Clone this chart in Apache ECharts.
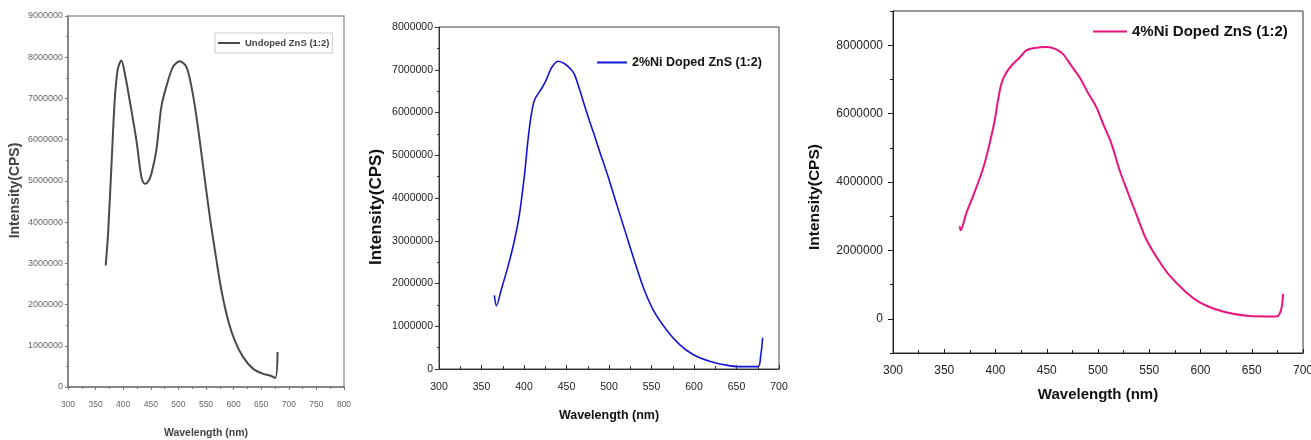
<!DOCTYPE html>
<html>
<head>
<meta charset="utf-8">
<script src="https://cdn.jsdelivr.net/npm/echarts@6.0.0/dist/echarts.min.js"></script>
<style>html,body{margin:0;padding:0;background:#fff;}#c{width:1311px;height:440px;}</style>
</head>
<body>
<div id="c"></div>
<script>
// ---- Data ----
const seriesNames = ['Undoped ZnS (1:2)', '2%Ni Doped ZnS (1:2)', '4%Ni Doped ZnS (1:2)'];

const wavelength1 = [368.3,372.6,378.6,384.6,390,396.7,403,411.8,424,433,439,445,451,460,469,478,490,502.5,514.6,523.7,532.8,544.9,557,569,578,590,602,617,635.5,653.7,665.8,675.5,679.7];
const intensity1 = [2950000,3720000,5340000,6950000,7700000,7920000,7600000,6950000,5980000,5090000,4930000,4980000,5170000,5740000,6790000,7280000,7760000,7900000,7760000,7280000,6550000,5340000,4120000,3070000,2340000,1620000,1130000,730000,440000,320000,280000,220000,850000];

const wavelength2 = [365.1,367.5,373.3,381.2,389,394.9,400.8,404.7,408.6,412.5,420.4,426.3,432.2,440,447.8,455.7,459.6,465.5,473.3,481.2,489,498.8,508.6,518.4,528.2,540,551.8,567.5,583.1,598.8,618.4,638,653.7,675.3,678.4,680.8];
const intensity2 = [1720000,1480000,1860000,2400000,3030000,3650000,4580000,5360000,5950000,6300000,6550000,6770000,7040000,7200000,7140000,7000000,6880000,6530000,6030000,5560000,5090000,4510000,3880000,3260000,2640000,1930000,1390000,920000,570000,340000,180000,90000,55000,55000,300000,730000];

const wavelength3 = [365,366,371.5,378,384.6,389.4,394.3,399.2,402.4,405.7,410.6,417,423.6,430,436.6,449.6,459.3,465.9,474,482,490,498.4,504.9,513,521,529.3,537.4,547.2,558.5,569.9,586.2,599.2,615.4,631.7,648,664.2,674,677.2,679.5,680.5];
const intensity3 = [2710000,2590000,3090000,3580000,4110000,4550000,5130000,5800000,6380000,6870000,7200000,7450000,7640000,7850000,7910000,7950000,7880000,7740000,7400000,7060000,6620000,6190000,5710000,5130000,4350000,3680000,3050000,2320000,1740000,1260000,770000,480000,270000,145000,80000,70000,70000,145000,390000,730000];

// peak annotations: [wavelength, intensity, text]
const peaks1 = [[395, 7920000, '395nm'], [500, 7900000, '500nm']];
const peaks2 = [[440, 7200000, '440nm']];
const peaks3 = [[449, 7950000, '449nm']];

const yTicks3 = [0, 2000000, 4000000, 6000000, 8000000];

// ---- Chart ----
const FONT = "'Liberation Sans', Arial, sans-serif";
const zip = (xs, ys) => xs.map((x, i) => [x, ys[i]]);
const plain = v => String(v);

const chart = echarts.init(document.getElementById('c'), null, {renderer: 'canvas'});

function peakMarks(peaks, style) {
  return {
    symbol: 'none',
    silent: true,
    label: Object.assign({show: true, position: 'inside', fontFamily: FONT, fontWeight: 'bold'}, style),
    data: peaks.map(p => ({coord: [p[0], p[1]], value: p[2], label: {formatter: p[2]}}))
  };
}

const option = {
  animation: false,
  backgroundColor: '#fff',
  grid: [
    {left: 68, right: 967, top: 16, bottom: 53, show: true, borderColor: '#9a9a9a', borderWidth: 1.5, outerBoundsMode: 'none', containLabel: false},
    {left: 439, right: 532, top: 27, bottom: 71, show: true, borderColor: '#444', borderWidth: 1, outerBoundsMode: 'none', containLabel: false},
    {left: 893, right: 8, top: 11, bottom: 87, show: true, borderColor: '#333', borderWidth: 1, outerBoundsMode: 'none', containLabel: false}
  ],
  legend: [
    {data: [seriesNames[0]], left: 215, top: 33, padding: [5, 3], borderColor: '#ccc', borderWidth: 1, icon: 'rect',
     itemWidth: 22, itemHeight: 2, textStyle: {fontFamily: FONT, fontWeight: 'bold', fontSize: 9.5, color: '#444'}},
    {data: [seriesNames[1]], left: 597, top: 56, padding: 0, icon: 'rect',
     itemWidth: 30, itemHeight: 2, textStyle: {fontFamily: FONT, fontWeight: 'bold', fontSize: 12.5, color: '#111'}},
    {data: [seriesNames[2]], left: 1093, top: 24, padding: 0, icon: 'rect',
     itemWidth: 34, itemHeight: 2, textStyle: {fontFamily: FONT, fontWeight: 'bold', fontSize: 15, color: '#111'}}
  ],
  xAxis: [
    {gridIndex: 0, type: 'value', min: 300, max: 800, interval: 50,
     name: 'Wavelength (nm)', nameLocation: 'middle', nameGap: 41,
     nameTextStyle: {fontFamily: FONT, fontWeight: 'bold', fontSize: 10.5, color: '#444'},
     axisLine: {onZero: false, lineStyle: {color: '#777', width: 1.5}},
     axisTick: {length: 3, lineStyle: {color: '#777'}},
     minorTick: {show: true, splitNumber: 2, length: 2, lineStyle: {color: '#777'}},
     axisLabel: {fontFamily: FONT, fontSize: 8.5, color: '#666', margin: 13, formatter: plain},
     splitLine: {show: false}},
    {gridIndex: 1, type: 'value', min: 300, max: 700, interval: 50,
     name: 'Wavelength (nm)', nameLocation: 'middle', nameGap: 40,
     nameTextStyle: {fontFamily: FONT, fontWeight: 'bold', fontSize: 12.5, color: '#111'},
     axisLine: {onZero: false, lineStyle: {color: '#333', width: 1}},
     axisTick: {length: 4, inside: true, lineStyle: {color: '#333'}},
     minorTick: {show: true, splitNumber: 2, length: 3, lineStyle: {color: '#333'}},
     axisLabel: {fontFamily: FONT, fontSize: 10.5, color: '#222', margin: 13, formatter: plain},
     splitLine: {show: false}},
    {gridIndex: 2, type: 'value', min: 300, max: 700, interval: 50,
     name: 'Wavelength (nm)', nameLocation: 'middle', nameGap: 34,
     nameTextStyle: {fontFamily: FONT, fontWeight: 'bold', fontSize: 15, color: '#111'},
     axisLine: {onZero: false, lineStyle: {color: '#222', width: 1}},
     axisTick: {length: 4, inside: true, lineStyle: {color: '#222'}},
     minorTick: {show: true, splitNumber: 2, length: 3, lineStyle: {color: '#222'}},
     axisLabel: {fontFamily: FONT, fontSize: 12, color: '#222', margin: 12, formatter: plain},
     splitLine: {show: false}}
  ],
  yAxis: [
    {gridIndex: 0, type: 'value', min: 0, max: 9000000, interval: 1000000,
     name: 'Intensity(CPS)', nameLocation: 'middle', nameGap: 46,
     nameTextStyle: {fontFamily: FONT, fontWeight: 'bold', fontSize: 14, color: '#444', padding: [0, 0, 0, 22]},
     axisLine: {onZero: false, lineStyle: {color: '#777', width: 1.5}},
     axisTick: {length: 3, lineStyle: {color: '#777'}},
     minorTick: {show: true, splitNumber: 2, length: 2, lineStyle: {color: '#777'}},
     axisLabel: {fontFamily: FONT, fontSize: 9, color: '#666', margin: 5, formatter: plain},
     splitLine: {show: false}},
    {gridIndex: 1, type: 'value', min: 0, max: 8000000, interval: 1000000,
     name: 'Intensity(CPS)', nameLocation: 'middle', nameGap: 54,
     nameTextStyle: {fontFamily: FONT, fontWeight: 'bold', fontSize: 17, color: '#111', padding: [0, 18, 0, 0]},
     axisLine: {onZero: false, lineStyle: {color: '#333', width: 1}},
     axisTick: {length: 4, lineStyle: {color: '#333'}},
     minorTick: {show: true, splitNumber: 2, length: 2, lineStyle: {color: '#333'}},
     axisLabel: {fontFamily: FONT, fontSize: 10.5, color: '#222', margin: 6, formatter: plain},
     splitLine: {show: false}},
    {gridIndex: 2, type: 'value', min: -1000000, max: 9000000, interval: 1000000,
     name: 'Intensity(CPS)', nameLocation: 'middle', nameGap: 70,
     nameTextStyle: {fontFamily: FONT, fontWeight: 'bold', fontSize: 15.5, color: '#111', padding: [0, 30, 0, 0]},
     axisLine: {onZero: false, lineStyle: {color: '#222', width: 1}},
     axisTick: {length: 5, customValues: yTicks3, lineStyle: {color: '#222'}},
     axisLabel: {fontFamily: FONT, fontSize: 12, color: '#222', margin: 10, customValues: yTicks3, formatter: plain},
     splitLine: {show: false}},
    {gridIndex: 2, type: 'value', position: 'left', offset: 0, min: -1000000, max: 9000000, interval: 1000000,
     axisLine: {show: false, onZero: false},
     axisTick: {length: 3, lineStyle: {color: '#222'}},
     axisLabel: {show: false},
     splitLine: {show: false}}
  ],
  series: [
    {name: seriesNames[0], type: 'line', xAxisIndex: 0, yAxisIndex: 0, data: zip(wavelength1, intensity1),
     showSymbol: false, symbol: 'none', smooth: 0.3,
     lineStyle: {color: '#4a4a4a', width: 2}, itemStyle: {color: '#4a4a4a'},
     markPoint: peakMarks(peaks1, {fontSize: 10, color: '#333', offset: [2, -19]})},
    {name: seriesNames[1], type: 'line', xAxisIndex: 1, yAxisIndex: 1, data: zip(wavelength2, intensity2),
     showSymbol: false, symbol: 'none', smooth: 0.3,
     lineStyle: {color: '#1414d6', width: 1.6}, itemStyle: {color: '#1414d6'},
     markPoint: peakMarks(peaks2, {fontSize: 12.5, color: '#111', offset: [-1, -17]})},
    {name: seriesNames[2], type: 'line', xAxisIndex: 2, yAxisIndex: 2, data: zip(wavelength3, intensity3),
     showSymbol: false, symbol: 'none', smooth: 0.3,
     lineStyle: {color: '#e8157f', width: 2}, itemStyle: {color: '#e8157f'},
     markPoint: peakMarks(peaks3, {fontSize: 14.5, color: '#111', offset: [-18, -18]})}
  ]
};
chart.setOption(option);
</script>
</body>
</html>
